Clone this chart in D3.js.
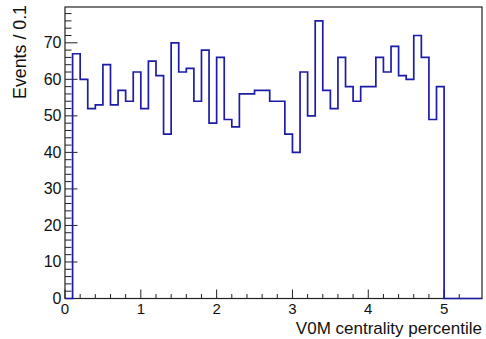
<!DOCTYPE html>
<html>
<head>
<meta charset="utf-8">
<script src="https://cdnjs.cloudflare.com/ajax/libs/d3/7.8.5/d3.min.js"></script>
<style>
  body { margin: 0; background: #fff; }
  svg { display: block; font-family: "Liberation Sans", Arial, sans-serif; }
</style>
</head>
<body>
<script>
// bin edges run 0 .. 5.5 in steps of 0.1
var binWidth = 0.1;
var xMin = 0, xMax = 5.5;
// events per bin (first bin 0, bins above 5.0 empty)
var counts = [0,
  67, 60, 52, 53, 64, 53, 57, 54, 62,
  52, 65, 61, 45, 70, 62, 63, 54, 68, 48,
  66, 49, 47, 56, 56, 57, 57, 54, 54, 45,
  40, 62, 50, 76, 57, 52, 66, 58, 54, 58,
  58, 66, 62, 69, 61, 60, 72, 66, 49, 58,
  0, 0, 0, 0, 0];
var xTicks = [0, 1, 2, 3, 4, 5];
var yTicks = [0, 10, 20, 30, 40, 50, 60, 70];

var W = 486, H = 339;
var margin = { top: 7, right: 4, bottom: 40.5, left: 65 };
var width = W - margin.left - margin.right;
var height = H - margin.top - margin.bottom;

var svg = d3.select("body").append("svg")
    .attr("width", W)
    .attr("height", H);

var g = svg.append("g")
    .attr("transform", "translate(" + margin.left + "," + margin.top + ")");

var x = d3.scaleLinear().domain([xMin, xMax]).range([0, width]);
var y = d3.scaleLinear().domain([0, d3.max(counts) * 1.05]).range([height, 0]);

// frame
g.append("rect")
    .attr("width", width)
    .attr("height", height)
    .attr("fill", "none")
    .attr("stroke", "#222")
    .attr("stroke-width", 1.2);

// y ticks (inward): major every 10, minor every 2
var yMinor = d3.range(0, y.domain()[1], 2);
g.selectAll(".ytick")
    .data(yMinor)
    .enter().append("line")
    .attr("x1", 0)
    .attr("x2", function(d) { return d % 10 === 0 ? 12.5 : 6.5; })
    .attr("y1", function(d) { return y(d); })
    .attr("y2", function(d) { return y(d); })
    .attr("stroke", "#222")
    .attr("stroke-width", 1);

g.selectAll(".ylab")
    .data(yTicks)
    .enter().append("text")
    .attr("x", -3.5)
    .attr("y", function(d) { return y(d) + 5.5; })
    .attr("text-anchor", "end")
    .attr("font-size", 16)
    .attr("fill", "#111")
    .text(function(d) { return d; });

// x ticks (inward): major every 1, minor every 0.2
var xMinor = d3.range(0, 27).map(function(i) { return i * 0.2; });
g.selectAll(".xtick")
    .data(xMinor)
    .enter().append("line")
    .attr("x1", function(d) { return x(d); })
    .attr("x2", function(d) { return x(d); })
    .attr("y1", height)
    .attr("y2", function(d, i) { return i % 5 === 0 ? height - 9 : height - 4.5; })
    .attr("stroke", "#222")
    .attr("stroke-width", 1);

g.selectAll(".xlab")
    .data(xTicks)
    .enter().append("text")
    .attr("x", function(d) { return x(d); })
    .attr("y", height + 15.5)
    .attr("text-anchor", "middle")
    .attr("font-size", 15)
    .attr("fill", "#111")
    .text(function(d) { return d; });

// histogram step outline
var pts = [[xMin, 0]];
counts.forEach(function(c, i) {
    var lo = xMin + i * binWidth, hi = lo + binWidth;
    pts.push([lo, c]);
    pts.push([hi, c]);
});
pts.push([xMax, 0]);

g.append("path")
    .datum(pts)
    .attr("fill", "none")
    .attr("stroke", "#1c1ca8")
    .attr("stroke-width", 1.7)
    .attr("d", d3.line()
        .x(function(d) { return x(d[0]); })
        .y(function(d) { return y(d[1]); }));

// axis titles
svg.append("text")
    .attr("x", W - 4)
    .attr("y", 333.5)
    .attr("text-anchor", "end")
    .attr("font-size", 17)
    .attr("fill", "#111")
    .text("V0M centrality percentile");

svg.append("text")
    .attr("transform", "translate(25.5,5) rotate(-90)")
    .attr("text-anchor", "end")
    .attr("font-size", 17.8)
    .attr("fill", "#111")
    .text("Events / 0.1");
</script>
</body>
</html>
